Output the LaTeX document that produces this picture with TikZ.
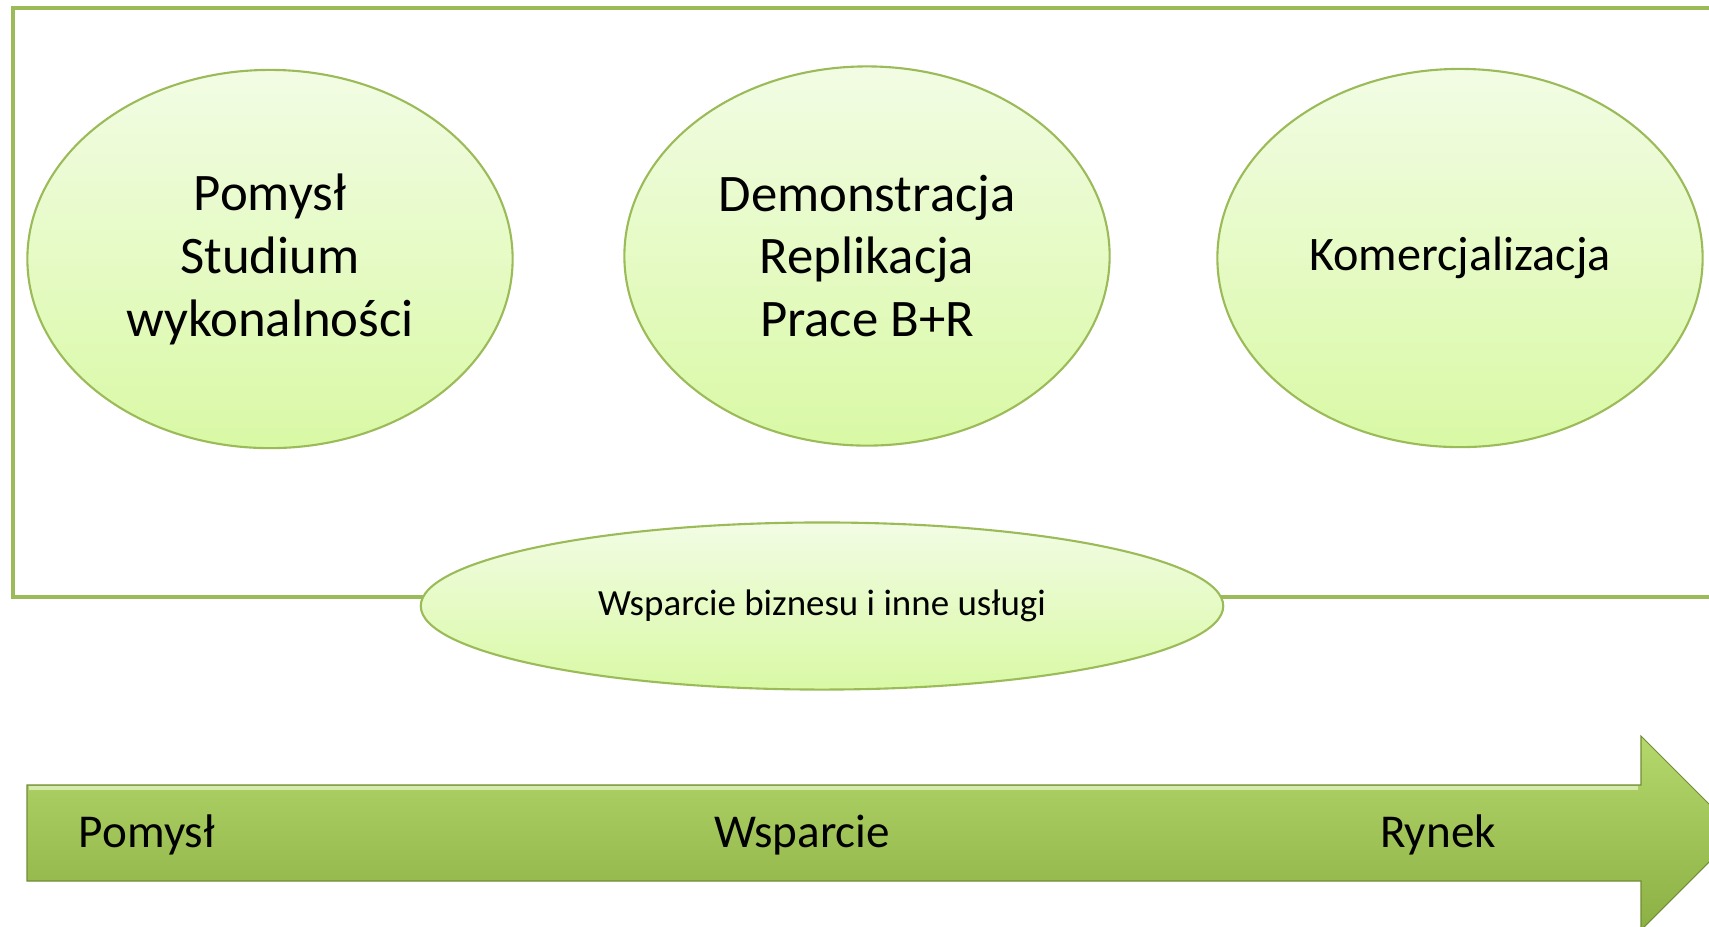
\documentclass[tikz,border=0pt]{standalone}
\usepackage{fontspec}
\setmainfont{Carlito}
\usetikzlibrary{shapes.geometric}

\definecolor{olive}{HTML}{9BBB59}
\definecolor{palegreen}{HTML}{F2FCE4}
\definecolor{limegreen}{HTML}{D9F9A5}
\definecolor{arrowtop}{HTML}{B4D86C}
\definecolor{arrowbot}{HTML}{8CB043}

\tikzset{
	stage/.style={ellipse, draw=olive, line width=0.6pt, top color=palegreen, bottom color=limegreen,
		inner sep=0pt, align=center, font=\fontsize{15}{17.9}\selectfont},
	steplabel/.style={font=\fontsize{13.4}{16}\selectfont}
}

\begin{document}
\begin{tikzpicture}[x=0.01cm, y=-0.01cm]
	\useasboundingbox (0,0) rectangle (1709,926);
	\clip (0,0) rectangle (1709,926);

	% Frame
	\draw [olive, line width=1.2pt] (1720,597) -- (13,597) -- (13,8) -- (1720,8);

	% Stages
	\node [stage, minimum width=4.85cm, minimum height=3.78cm] (idea) at (270,259) {Pomysł\\Studium\\wykonalności};
	\node [stage, minimum width=4.85cm, minimum height=3.79cm] (demo) at (867,256) {Demonstracja\\Replikacja\\Prace B+R};
	\node [stage, minimum width=4.85cm, minimum height=3.78cm, font=\fontsize{13.7}{16}\selectfont] (comm) at (1460,258) {Komercjalizacja};
	\node [stage, minimum width=8.02cm, minimum height=1.67cm, font=\fontsize{10.5}{12}\selectfont] (support) at (822,606) {\raisebox{-0.35ex}{Wsparcie biznesu i inne usługi}};

	% Arrow
	\shade [top color=arrowtop, bottom color=arrowbot, draw=arrowbot!80!black, line width=0.3pt]
		(27,785) -- (1641,785) -- (1641,736) -- (1738,833) -- (1641,930) -- (1641,881) -- (27,881) -- cycle;
	\draw [white!45!arrowtop, line width=1pt] (29,788) -- (1638,788);
	\node [steplabel] (start) at (147,835) {Pomysł};
	\node [steplabel] (mid) at (802,835) {Wsparcie};
	\node [steplabel] (market) at (1438,835) {Rynek};
\end{tikzpicture}
\end{document}
